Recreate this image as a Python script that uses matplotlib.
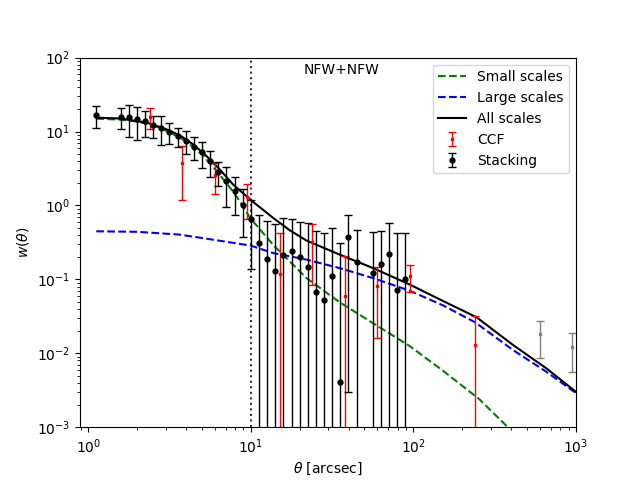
import numpy as np
from matplotlib import pyplot as plt

#%% Stacking measurements (black)
theta_stack = [1.12, 1.58, 1.78, 2.0, 2.24, 2.51, 2.82, 3.16, 3.55, 3.98,
               4.47, 5.01, 5.62, 6.31, 7.08, 7.94, 8.91, 10.0, 11.2, 12.6,
               14.1, 15.8, 17.8, 20.0, 22.4, 25.1, 28.2, 31.6, 35.5, 39.8,
               44.7, 56.2, 63.1, 70.8, 79.4, 89.1]
w_stack = [16.7, 15.8, 15.5, 14.6, 13.8, 12.3, 11.3, 9.97, 8.75, 7.53,
           6.24, 5.22, 3.94, 2.86, 2.16, 1.59, 1.02, 0.658, 0.311, 0.188,
           0.131, 0.214, 0.242, 0.203, 0.147, 0.0673, 0.0529, 0.111, 0.00405, 0.375,
           0.173, 0.122, 0.161, 0.220, 0.0716, 0.101]
err_stack = [5.7, 5.0, 7.1, 7.0, 5.3, 4.1, 4.8, 3.2, 2.5, 2.5,
             2.1, 2.0, 1.5, 1.05, 1.2, 0.85, 0.65, 0.52, 0.44, 0.42,
             0.43, 0.47, 0.42, 0.40, 0.43, 0.38, 0.37, 0.39, 0.31, 0.372,
             0.29, 0.32, 0.29, 0.36, 0.35, 0.32]

#%% CCF measurements (red), last two shown in grey
theta_ccf = [2.39, 3.78, 6.01, 9.49, 15.1, 23.8, 38.2, 59.8, 95.3, 240]
w_ccf = [15.9, 3.78, 2.62, 1.31, 0.118, 0.324, 0.0593, 0.0811, 0.112, 0.0130]
err_ccf = [5.0, 2.6, 1.18, 0.66, 0.31, 0.24, 0.15, 0.065, 0.044, 0.019]

theta_grey = [600, 944]
w_grey = [0.0181, 0.0121]
err_grey = [0.0094, 0.0065]

#%% Model curves
theta_small = [1.12, 1.58, 2.0, 2.51, 3.16, 3.98, 5.01, 6.31, 7.94, 8.56,
               9.89, 13.7, 22.0, 35.2, 56.5, 95.0, 152, 254, 379, 420]
w_small = [14.9, 14.5, 13.6, 12.2, 9.8, 7.4, 4.9, 2.75, 1.45, 1.13,
           0.68, 0.294, 0.104, 0.049, 0.0255, 0.0125, 0.0058, 0.0024, 0.00101, 0.00081]

theta_large = [1.12, 2.0, 3.66, 5.86, 10.0, 13.7, 22.0, 35.2, 56.5, 95.0,
               152, 240, 409, 657, 1000]
w_large = [0.447, 0.44, 0.403, 0.344, 0.286, 0.227, 0.185, 0.142, 0.104, 0.070,
           0.0445, 0.0262, 0.0111, 0.00562, 0.00290]

theta_all = [1.12, 1.57, 2.29, 3.03, 3.66, 4.42, 5.34, 6.44, 7.78, 9.41,
             10.0, 11.4, 13.7, 17.4, 22.0, 35.2, 56.5, 95.0, 152, 244,
             409, 657, 1000]
w_all = [15.4, 15.0, 13.2, 10.7, 8.88, 6.70, 4.65, 3.07, 1.92, 1.33,
         1.18, 0.94, 0.68, 0.46, 0.335, 0.216, 0.142, 0.085, 0.051, 0.0308,
         0.0130, 0.00626, 0.0030]

#%% Plot
fig, ax = plt.subplots(figsize=(6.4, 4.8), dpi=100)

ax.plot(theta_small, w_small, 'g--', label='Small scales')
ax.plot(theta_large, w_large, 'b--', label='Large scales')
ax.plot(theta_all, w_all, 'k-', label='All scales')

ax.errorbar(theta_ccf, w_ccf, yerr=err_ccf, fmt='s', color='red',
            markersize=2, capsize=3, elinewidth=1, label='CCF')
ax.errorbar(theta_stack, w_stack, yerr=err_stack, fmt='o', color='black',
            markersize=3.5, capsize=3, elinewidth=1, label='Stacking')
ax.errorbar(theta_grey, w_grey, yerr=err_grey, fmt='s', color='grey',
            markersize=2, capsize=3, elinewidth=1)

ax.axvline(10, color='k', linestyle=':', lw=1.5, alpha=0.8)

ax.set_xscale('log')
ax.set_yscale('log')
ax.set_xlim(0.89, 1000)
ax.set_ylim(1e-3, 1e2)
ax.set_xlabel(r'$\theta$ [arcsec]')
ax.set_ylabel(r'$w(\theta)$')
ax.text(21, 60, 'NFW+NFW')
ax.legend(loc='upper right')

fig.savefig('out.png', dpi=100)
